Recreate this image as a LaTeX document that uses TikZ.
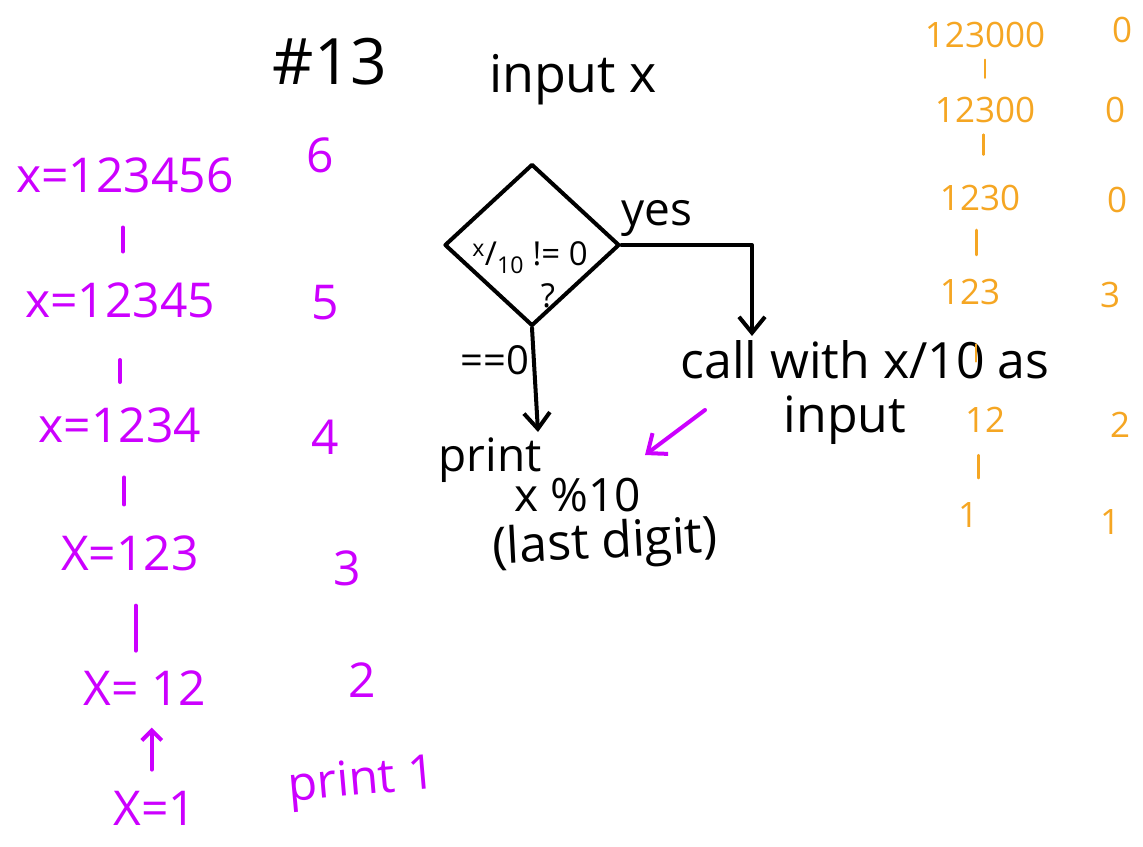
\documentclass[tikz,border=0pt]{standalone}
\usepackage{fontspec}
\setmainfont{Open Sans}
\usetikzlibrary{arrows.meta,calc,shapes.geometric}
\definecolor{mag}{RGB}{204,0,255}
\definecolor{org}{RGB}{245,166,35}
\tikzset{
  every node/.style={inner sep=2pt},
  big/.style={font=\fontsize{46}{52}\selectfont},
  bigger/.style={font=\fontsize{50}{56}\selectfont},
  huge/.style={font=\fontsize{64}{70}\selectfont},
  med/.style={font=\fontsize{35}{40}\selectfont},
  small/.style={font=\fontsize{33}{38}\selectfont},
  magtxt/.style={font=\fontsize{48}{54}\selectfont,text=mag},
  orgtxt/.style={med,text=org},
  blk/.style={line width=4pt,line cap=round,line join=round,black},
  magline/.style={line width=4pt,line cap=round,mag},
  orgline/.style={line width=2.5pt,line cap=round,org},
  barb/.style={-{Straight Barb[length=16pt,width=26pt,line width=4pt]}}
}
\begin{document}
\begin{tikzpicture}[x=1pt,y=-1pt]
\useasboundingbox (0,0) rectangle (1143,846);
% title
\node[huge] (title) at (330,62) {\#13};
\node[font=\fontsize{52}{58}\selectfont] (inp) at (573,80) {input x};
% decision
\node[diamond,draw,blk,minimum width=175pt,minimum height=162pt,inner sep=0pt] (d) at (532,245) {};
\node[small] (dq) at (530,258) {\textsuperscript{x}/\textsubscript{10} != 0};
\node[small] (dq2) at (548,296) {?};
\node[big] (yes) at (657,218) {yes};
\node[font=\fontsize{40}{44}\selectfont] (eq) at (495,360) {==0};
\node[bigger] (call) at (865,360) {call with x/10 as};
\node[bigger] (callb) at (845,420) {input};
\coordinate (c1) at (752,336);
\draw[blk,barb] (d.east) -| (c1);
\node[big] (pr) at (490,460) {print};
\node[big] (pr2) at (578,495) {x \%10};
\node[font=\fontsize{50}{54}\selectfont,rotate=3] (pr3) at (605,545) {(last digit)};
\coordinate (p1) at (538,432);
\draw[blk,barb] (d.south) -- (p1);
\coordinate (m1) at (705,410);
\coordinate (m2) at (645,455);
\draw[magline,barb] (m1) -- (m2);
% magenta column
\node[magtxt] (x1) at (125,175) {x=123456};
\node[magtxt] (x2) at (120,300) {x=12345};
\node[magtxt] (x3) at (120,425) {x=1234};
\node[magtxt] (x4) at (130,553) {X=123};
\node[magtxt] (x5) at (145,688) {X= 12};
\node[magtxt] (x6) at (155,808) {X=1};
\draw[magline] ($(x1)!0.42!(x2)$) -- ++(0,24);
\draw[magline] ($(x2)!0.48!(x3)$) -- ++(0,22);
\draw[magline] ($(x3)!0.41!(x4)$) -- ++(0,27);
\draw[magline] ($(x4)!0.39!(x5)$) -- ++(0,45);
\draw[magline,-{Straight Barb[length=10pt,width=20pt,line width=4pt]}] ($(x6)!0.32!(x5)$) -- ++(0,-42);
\node[magtxt] (d1) at (320,155) {6};
\node[magtxt] (d2) at (325,303) {5};
\node[magtxt] (d3) at (325,437) {4};
\node[magtxt] (d4) at (347,568) {3};
\node[magtxt] (d5) at (362,680) {2};
\node[magtxt,rotate=5] (d6) at (362,783) {print 1};
% orange column
\node[orgtxt] (o1) at (985,35) {123000};
\node[orgtxt] (o2) at (985,110) {12300};
\node[orgtxt] (o3) at (980,198) {1230};
\node[orgtxt] (o4) at (970,292) {123};
\node[orgtxt] (o5) at (985,420) {12};
\node[orgtxt] (o6) at (968,515) {1};
\draw[orgline] ($(o1)!0.33!(o2)$) -- ++(0,18);
\draw[orgline] ($(o2)!0.28!(o3)$) -- ++(0,20);
\draw[orgline] ($(o3)!0.34!(o4)$) -- ++(0,25);
\draw[orgline] ($(o4)!0.41!(o5)$) -- ++(0,17);
\draw[orgline] ($(o5)!0.37!(o6)$) -- ++(0,23);
\node[orgtxt] (r1) at (1122,30) {0};
\node[orgtxt] (r2) at (1115,110) {0};
\node[orgtxt] (r3) at (1117,200) {0};
\node[orgtxt] (r4) at (1110,295) {3};
\node[orgtxt] (r5) at (1120,425) {2};
\node[orgtxt] (r6) at (1110,522) {1};
\end{tikzpicture}
\end{document}
